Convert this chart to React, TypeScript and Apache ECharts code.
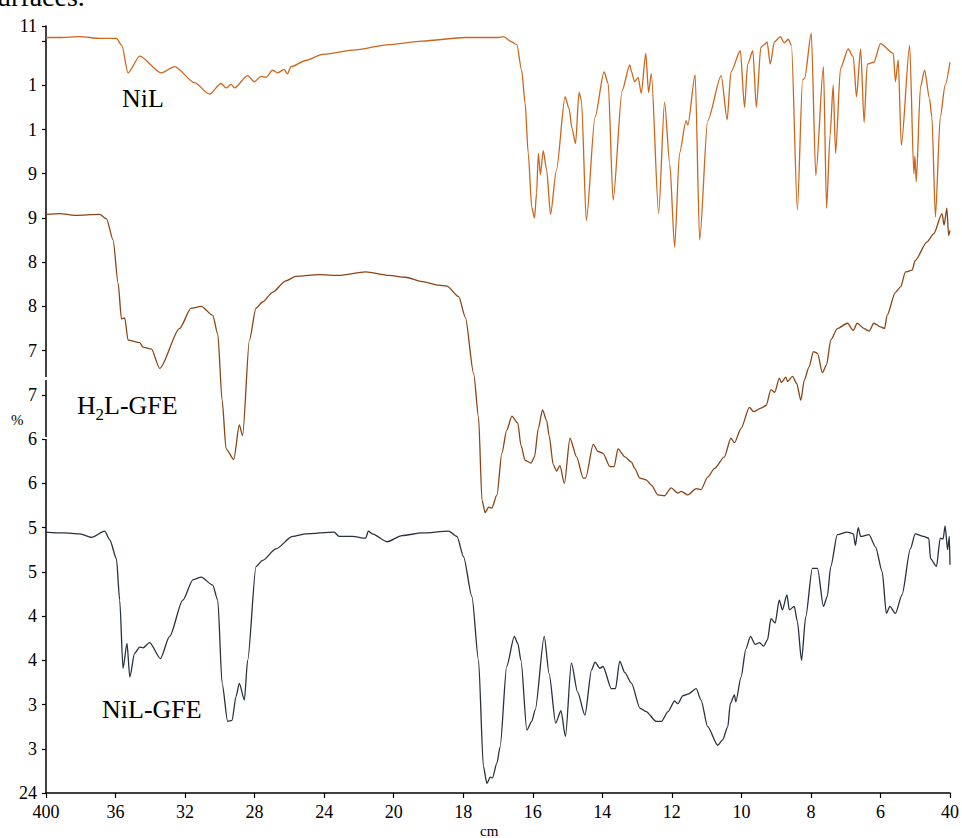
import React, { useEffect, useRef } from "react";
import * as echarts from "echarts";

// x-axis tick labels (as printed, truncated) at 4000,3600,...,2000,1800,...,400 cm-1
const xTickLabels = ["400", "36", "32", "28", "24", "20", "18", "16", "14", "12", "10", "8", "6", "40"];
// y-axis ticks (%T) and the truncated labels printed beside them
const yTickValues = [25, 30, 35, 40, 45, 50, 55, 60, 65, 70, 75, 80, 85, 90, 95, 100, 105, 110, 111.7];
const yTickLabels = ["24", "3", "3", "4", "4", "5", "5", "6", "6", "7", "7", "8", "8", "9", "9", "1", "1", "", "11"];

// [wavenumber cm-1, %T]
const nil: number[][] = [
  [4000,110.4],[3920,110.4],[3805,110.5],[3690,110.3],[3595,110.3],[3564,109.5],[3528,106.4],[3461,108.3],[3337,106.4],[3260,107.1],[3146,105.3],[3060,104.0],[2993,105.2],[2964,104.7],[2935,105.1],[2916,104.7],[2840,106.1],[2802,105.4],[2763,106.0],[2735,105.9],[2697,106.7],[2668,106.4],[2630,106.8],[2611,106.3],[2591,107.1],[2505,107.8],[2410,108.5],[2219,109.0],[2028,109.6],[1918,110.0],[1794,110.4],[1699,110.4],[1684,110.5],[1661,109.9],[1646,109.6],[1632,106.7],[1622,103.0],[1613,97.3],[1603,91.2],[1595,90.0],[1589,92.8],[1584,97.3],[1578,94.9],[1570,97.6],[1560,95.4],[1549,90.4],[1532,95.4],[1507,103.7],[1496,102.4],[1487,100.1],[1477,98.4],[1467,104.2],[1460,103.3],[1446,89.7],[1421,101.4],[1395,106.5],[1383,105.2],[1369,92.0],[1343,104.4],[1321,107.3],[1316,106.5],[1307,105.4],[1297,105.9],[1288,104.1],[1275,108.6],[1267,104.2],[1259,106.3],[1238,90.5],[1221,103.1],[1206,96.1],[1192,86.7],[1178,97.3],[1159,101.0],[1154,100.5],[1133,106.2],[1120,87.5],[1097,101.0],[1058,106.1],[1041,101.1],[1030,106.5],[1003,108.9],[991,102.5],[982,107.4],[967,108.9],[957,102.5],[944,109.3],[934,109.6],[926,109.9],[917,107.4],[905,109.9],[888,110.5],[877,109.8],[865,110.2],[856,109.5],[839,90.9],[824,105.6],[818,105.8],[799,110.9],[786,94.8],[764,107.1],[755,91.1],[745,99.3],[736,105.0],[729,97.3],[715,106.9],[693,109.1],[678,108.2],[669,103.7],[657,109.1],[647,100.8],[638,107.4],[619,107.6],[600,109.7],[563,108.6],[557,105.4],[549,107.9],[540,98.2],[516,109.5],[504,95.0],[501,97.0],[497,94.1],[485,104.8],[473,106.7],[459,103.5],[452,101.4],[442,90.1],[428,101.4],[414,105.0],[400,107.6]
];

const h2l: number[][] = [
  [4000,90.4],[3920,90.5],[3834,90.3],[3690,90.4],[3652,89.9],[3614,87.5],[3585,82.6],[3566,78.6],[3547,78.7],[3528,76.2],[3461,75.9],[3442,75.4],[3394,75.2],[3346,73.0],[3232,77.5],[3165,79.8],[3107,80.0],[3041,79.0],[3012,76.9],[2987,69.4],[2964,63.9],[2920,62.7],[2888,66.6],[2869,65.4],[2830,76.2],[2792,79.8],[2754,80.5],[2697,81.6],[2620,82.9],[2563,83.4],[2429,83.6],[2314,83.5],[2161,83.9],[2028,83.5],[1966,83.3],[1918,82.8],[1871,82.4],[1847,82.3],[1813,81.1],[1794,78.8],[1770,72.4],[1756,67.5],[1746,58.1],[1737,56.7],[1727,57.3],[1718,57.2],[1703,58.7],[1689,63.4],[1675,66.0],[1660,67.6],[1643,66.8],[1634,64.3],[1622,62.6],[1605,62.3],[1595,63.0],[1584,66.2],[1572,68.3],[1560,67.1],[1553,65.4],[1541,62.1],[1531,61.4],[1522,62.0],[1509,60.0],[1493,65.1],[1474,63.0],[1455,60.6],[1448,60.6],[1426,64.4],[1412,63.6],[1398,63.4],[1378,61.9],[1366,61.9],[1355,63.9],[1335,63.0],[1316,62.4],[1307,61.7],[1292,60.6],[1274,60.4],[1259,59.8],[1240,58.7],[1221,58.6],[1202,59.5],[1183,58.9],[1173,59.1],[1154,58.7],[1130,59.4],[1116,59.3],[1097,60.7],[1077,61.7],[1049,63.0],[1030,65.1],[1020,64.6],[1001,66.2],[977,68.6],[965,68.1],[944,68.5],[929,68.8],[915,70.6],[904,70.3],[891,71.9],[885,71.4],[872,72.0],[867,71.5],[853,72.1],[841,71.3],[829,69.4],[819,71.7],[805,73.2],[793,74.9],[781,74.7],[767,72.5],[755,73.4],[743,76.2],[724,77.5],[695,78.1],[678,77.3],[667,78.1],[647,77.5],[633,77.2],[619,78.1],[600,77.7],[588,77.5],[581,79.0],[557,81.6],[542,82.2],[528,83.9],[509,84.1],[500,85.2],[466,87.3],[447,88.2],[423,90.5],[417,89.2],[409,91.1],[404,88.0],[400,88.6]
];

const nilGfe: number[][] = [
  [4000,54.5],[3901,54.4],[3805,54.3],[3738,53.9],[3662,54.6],[3633,53.6],[3595,51.5],[3576,46.8],[3557,39.1],[3534,41.9],[3518,38.1],[3490,40.8],[3461,41.5],[3442,41.4],[3404,42.0],[3342,40.2],[3289,42.7],[3213,46.8],[3155,49.1],[3107,49.4],[3041,48.5],[3012,46.8],[2987,37.4],[2955,33.1],[2930,33.2],[2907,35.9],[2888,37.4],[2859,35.5],[2840,40.0],[2792,50.6],[2754,51.3],[2677,52.6],[2582,54.0],[2505,54.3],[2343,54.5],[2314,54.0],[2238,54.0],[2161,53.8],[2146,54.6],[2123,54.3],[2038,53.4],[1976,54.1],[1918,54.4],[1842,54.6],[1818,54.0],[1799,51.7],[1775,47.2],[1756,40.0],[1742,28.0],[1732,26.1],[1722,26.8],[1716,26.7],[1703,28.4],[1694,30.2],[1675,39.3],[1653,42.7],[1643,41.9],[1634,40.0],[1617,32.1],[1603,33.1],[1593,34.4],[1567,42.7],[1553,38.5],[1534,32.9],[1519,34.3],[1506,31.4],[1489,39.7],[1471,36.4],[1450,33.8],[1431,38.9],[1421,39.8],[1407,39.1],[1398,39.3],[1374,36.8],[1362,36.8],[1350,39.9],[1335,38.6],[1316,37.4],[1292,34.6],[1274,34.2],[1245,33.1],[1230,33.1],[1211,34.2],[1192,35.4],[1183,35.1],[1168,36.0],[1152,36.2],[1130,36.8],[1116,35.5],[1097,32.5],[1068,30.4],[1054,31.0],[1039,32.5],[1032,35.1],[1020,36.1],[1016,35.3],[1001,38.1],[987,41.3],[974,42.7],[960,41.8],[948,42.0],[936,41.6],[925,42.3],[915,44.7],[903,44.2],[891,46.8],[882,45.7],[869,47.4],[862,45.7],[848,46.1],[839,44.4],[827,40.0],[815,44.9],[796,50.4],[781,50.4],[764,46.1],[753,47.2],[743,50.6],[724,54.2],[695,54.5],[678,54.3],[672,53.0],[664,55.0],[657,54.0],[633,54.2],[614,52.8],[595,50.0],[583,45.3],[573,46.1],[557,45.3],[538,47.4],[514,52.6],[500,54.3],[476,54.0],[461,53.8],[456,51.5],[439,50.6],[428,53.8],[420,53.7],[414,55.2],[407,52.5],[402,54.0],[400,50.8]
];

// dual-scale IR abscissa: 4000-2000 at 400 cm-1 per division, 2000-400 at 200 cm-1 per division
const wnToPos = (wn: number) => (wn >= 2000 ? (4000 - wn) / 400 : 5 + (2000 - wn) / 200);
const toSeries = (d: number[][]) => d.map(([wn, t]) => [wnToPos(wn), t]);

const SERIF = "'Liberation Serif', 'DejaVu Serif', serif";

export default function App() {
  const ref = useRef<HTMLDivElement>(null);
  useEffect(() => {
    if (!ref.current) return;
    const chart = echarts.init(ref.current, undefined, { renderer: "svg" });
    const lineBase = { type: "line", showSymbol: false, symbol: "none", smooth: 0.25, smoothMonotone: "x", silent: true };
    chart.setOption({
      animation: false,
      backgroundColor: "#ffffff",
      grid: { left: 46, right: 9, top: 26, bottom: 45, containLabel: false },
      xAxis: {
        type: "value",
        min: 0,
        max: 13,
        interval: 1,
        axisLine: { show: true, onZero: false, lineStyle: { color: "#000", width: 1.5 } },
        axisTick: { show: true, inside: false, length: 5, lineStyle: { color: "#000", width: 1.2 } },
        splitLine: { show: false },
        axisLabel: {
          margin: 10,
          color: "#000",
          fontFamily: SERIF,
          fontSize: 18,
          showMinLabel: true,
          showMaxLabel: true,
          formatter: (v: number) => xTickLabels[Math.round(v)] ?? "",
        },
      },
      yAxis: {
        type: "value",
        min: 25,
        max: 111.7,
        interval: 5,
        axisLine: { show: true, onZero: false, lineStyle: { color: "#000", width: 1.5 } },
        axisTick: { show: true, inside: false, length: 4, lineStyle: { color: "#000", width: 1.2 } },
        splitLine: { show: false },
        axisLabel: {
          margin: 9,
          color: "#000",
          fontFamily: SERIF,
          fontSize: 18,
          showMinLabel: true,
          showMaxLabel: true,
          formatter: (v: number) => {
            let best = 0;
            for (let i = 0; i < yTickValues.length; i++) {
              if (Math.abs(yTickValues[i] - v) < Math.abs(yTickValues[best] - v)) best = i;
            }
            return yTickLabels[best];
          },
        },
      },
      series: [
        { ...lineBase, name: "NiL", data: toSeries(nil), lineStyle: { color: "#cc661c", width: 1.3 } },
        { ...lineBase, name: "H2L-GFE", data: toSeries(h2l), lineStyle: { color: "#8a4515", width: 1.3 } },
        { ...lineBase, name: "NiL-GFE", data: toSeries(nilGfe), lineStyle: { color: "#2a313d", width: 1.3 } },
      ],
      graphic: [
        { type: "text", x: -3, y: 10, z: 100, style: { text: "urfaces.", font: `28px ${SERIF}`, fill: "#000", textVerticalAlign: "bottom" } },
        { type: "text", x: 122, y: 98.5, z: 100, style: { text: "NiL", font: `26px ${SERIF}`, fill: "#000", textVerticalAlign: "middle" } },
        { type: "text", x: 77, y: 405, z: 100, style: { text: "H", font: `26px ${SERIF}`, fill: "#000", textVerticalAlign: "middle" } },
        { type: "text", x: 95.5, y: 414, z: 100, style: { text: "2", font: `17px ${SERIF}`, fill: "#000", textVerticalAlign: "middle" } },
        { type: "text", x: 104, y: 405, z: 100, style: { text: "L-GFE", font: `26px ${SERIF}`, fill: "#000", textVerticalAlign: "middle" } },
        { type: "text", x: 102, y: 709, z: 100, style: { text: "NiL-GFE", font: `26px ${SERIF}`, fill: "#000", textVerticalAlign: "middle" } },
        { type: "text", x: 11, y: 420, z: 100, style: { text: "%", font: `15px ${SERIF}`, fill: "#000", textVerticalAlign: "middle" } },
        { type: "text", x: 480, y: 831, z: 100, style: { text: "cm", font: `15px ${SERIF}`, fill: "#000", textVerticalAlign: "middle" } },
        { type: "rect", z: 100, shape: { x: 44, y: 377, width: 4, height: 3 }, style: { fill: "#ffffff" } },
        { type: "rect", z: 100, shape: { x: 44, y: 437, width: 4, height: 2 }, style: { fill: "#ffffff" } },
      ],
    });
    return () => chart.dispose();
  }, []);
  return <div ref={ref} style={{ position: "fixed", left: 0, top: 0, width: 962, height: 838 }} />;
}
